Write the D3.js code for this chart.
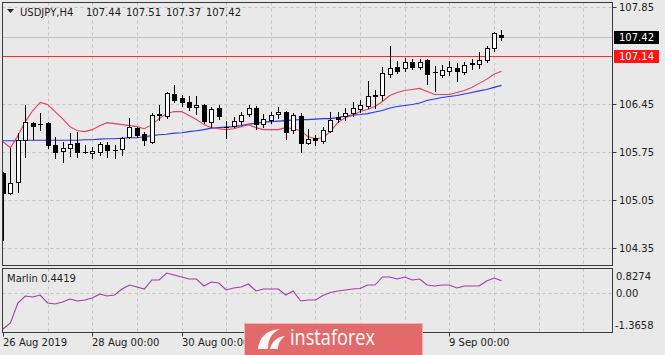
<!DOCTYPE html>
<html><head><meta charset="utf-8">
<script src="https://cdn.jsdelivr.net/npm/d3@7"></script>
<style>
html,body{margin:0;padding:0;background:#e9e9e9;}
svg{display:block;font-family:"DejaVu Sans",sans-serif;}
</style></head>
<body><div id="chart"></div>
<script>
// ---- data (USDJPY H4, 26 Aug 2019 00:00 onwards, one entry per bar) ----
const openP  = [105.444,105.152,105.312,105.925,106.173,106.158,106.173,105.852,105.764,105.808,105.881,105.750,105.735,105.750,105.852,105.779,105.794,105.969,106.100,106.012,105.896,106.290,106.275,106.581,106.523,106.465,106.406,106.435,106.187,106.392,106.115,106.129,106.202,106.304,106.392,106.158,106.217,106.304,106.333,106.071,106.275,105.881,105.954,105.910,106.056,106.260,106.275,106.319,106.377,106.421,106.552,106.567,106.873,106.975,106.960,107.048,106.975,107.077,106.902,106.858,106.917,106.960,106.902,107.033,107.019,107.077,107.252,107.44];
const highP  = [105.458,105.808,106.027,106.435,106.187,106.319,106.187,105.969,105.896,106.027,106.042,105.852,105.823,105.896,105.896,105.852,105.969,106.246,106.115,106.042,106.319,106.435,106.610,106.713,106.567,106.552,106.552,106.450,106.406,106.435,106.202,106.260,106.333,106.435,106.421,106.304,106.333,106.406,106.348,106.319,106.319,106.085,105.998,106.115,106.333,106.333,106.392,106.479,106.494,106.771,106.640,106.975,107.281,107.063,107.106,107.092,107.092,107.092,106.990,107.004,107.063,107.033,107.048,107.092,107.194,107.281,107.486,107.51];
const lowP   = [104.467,105.140,105.167,105.677,105.940,106.071,105.808,105.663,105.604,105.692,105.677,105.735,105.663,105.706,105.677,105.663,105.706,105.954,105.969,105.852,105.881,106.217,106.246,106.479,106.421,106.362,106.304,106.173,106.115,106.231,105.954,106.115,106.158,106.275,106.085,106.115,106.173,106.246,105.940,106.027,105.750,105.867,105.852,105.881,106.042,106.187,106.217,106.275,106.333,106.392,106.392,106.508,106.829,106.888,106.917,106.946,106.946,106.727,106.625,106.829,106.858,106.771,106.873,106.946,106.960,107.048,107.208,107.37];
const closeP = [105.152,105.298,105.925,106.187,106.129,106.151,105.852,105.750,105.808,105.867,105.750,105.743,105.764,105.867,105.779,105.772,105.954,106.115,105.998,105.925,106.290,106.295,106.596,106.508,106.465,106.406,106.435,106.202,106.377,106.275,106.110,106.202,106.290,106.392,106.158,106.231,106.290,106.333,106.042,106.290,105.881,105.940,105.925,106.071,106.217,106.231,106.319,106.392,106.435,106.552,106.567,106.888,106.960,106.917,107.048,106.975,107.048,106.873,106.900,106.931,106.975,106.917,107.004,107.030,107.077,107.252,107.471,107.42];
const maRed  = [105.896,105.808,105.984,106.187,106.348,106.465,106.435,106.333,106.231,106.115,106.056,106.042,106.071,106.129,106.173,106.158,106.144,106.129,106.115,106.085,106.144,106.231,106.304,106.333,106.333,106.275,106.217,106.144,106.100,106.085,106.071,106.085,106.115,106.144,106.100,106.071,106.071,106.071,106.100,106.085,106.056,105.969,105.940,105.954,106.042,106.173,106.246,106.275,106.333,106.362,106.406,106.479,106.567,106.610,106.640,106.654,106.669,106.625,106.581,106.581,106.581,106.610,106.640,106.684,106.742,106.800,106.873,106.917];
const maBlue = [105.910,105.910,105.910,105.918,105.918,105.918,105.918,105.918,105.918,105.918,105.918,105.925,105.925,105.933,105.940,105.940,105.947,105.954,105.954,105.969,105.984,105.998,106.005,106.020,106.027,106.042,106.056,106.071,106.093,106.100,106.107,106.115,106.129,106.151,106.166,106.180,106.187,106.195,106.202,106.210,106.217,106.217,106.224,106.231,106.231,106.246,106.268,106.282,106.290,106.304,106.326,106.348,106.385,106.406,106.421,106.435,106.457,106.494,106.516,106.538,106.552,106.567,106.589,106.610,106.633,106.654,106.684,106.713];
const marlin = [-1.294,-1.078,-0.359,-0.108,-0.144,-0.072,-0.359,-0.395,-0.323,-0.215,-0.287,-0.251,-0.179,-0.036,-0.108,-0.072,0.144,0.288,0.216,0.144,0.468,0.468,0.720,0.648,0.576,0.504,0.504,0.252,0.396,0.360,0.108,0.180,0.216,0.324,0.072,0.144,0.144,0.144,-0.072,0.072,-0.287,-0.251,-0.251,-0.090,0.018,0.072,0.108,0.144,0.162,0.288,0.288,0.576,0.576,0.504,0.576,0.468,0.504,0.288,0.252,0.288,0.288,0.180,0.252,0.252,0.252,0.432,0.540,0.4419];
const priceTicks = [104.35,105.05,105.75,106.45,107.85];
const marlinTicks = [0.8274,0.00,-1.3658];
const timeTickBars = [0,12,24,60];
const timeTickLabels = ["26 Aug 2019","28 Aug 00:00","30 Aug 00:00","9 Sep 00:00"];
const dayGridBars = [6,12,18,24,30,36,42,48,54,60,66,72,78];
const levelLine = 107.14;
const header = ["USDJPY,H4","107.44","107.51","107.37","107.42"];
const marlinName = "Marlin";

// ---- layout ----
const W = 665, H = 355;
const L = 2.5, R = 612.5, T = 2.5, B1 = 265.5, T2 = 268.5, B2 = 332.5;
const svg = d3.select("#chart").append("svg").attr("width", W).attr("height", H);
svg.append("rect").attr("width", W).attr("height", H).attr("fill", "#e9e9e9");

const x = d3.scaleLinear().domain([0, 82]).range([3, 3 + 82 * 7.44]);
const y = d3.scaleLinear().domain([104.35, 107.85]).range([248.3, 7]);
const ym = d3.scaleLinear().domain([-1.3658, 0.8274]).range([331, 270]);

const defs = svg.append("defs");
defs.append("clipPath").attr("id", "c1").append("rect").attr("x", L).attr("y", T).attr("width", R - L).attr("height", B1 - T);
defs.append("clipPath").attr("id", "c2").append("rect").attr("x", L).attr("y", T2).attr("width", R - L).attr("height", B2 - T2);

const gridCol = "#c4c4c4";
const g1 = svg.append("g").attr("clip-path", "url(#c1)");
const g2 = svg.append("g").attr("clip-path", "url(#c2)");

// grids
dayGridBars.forEach(b => {
  const gx = Math.round(x(b)) + 0.5;
  [[g1, T, B1], [g2, T2, B2]].forEach(([g, a, c]) =>
    g.append("line").attr("x1", gx).attr("x2", gx).attr("y1", a).attr("y2", c)
      .attr("stroke", gridCol).attr("stroke-dasharray", "3,3"));
});
priceTicks.forEach(p => {
  const gy = Math.round(y(p)) + 0.5;
  g1.append("line").attr("x1", L).attr("x2", R).attr("y1", gy).attr("y2", gy)
    .attr("stroke", gridCol).attr("stroke-dasharray", "3,3");
});
g2.append("line").attr("x1", L).attr("x2", R).attr("y1", Math.round(ym(0)) + 0.5).attr("y2", Math.round(ym(0)) + 0.5)
  .attr("stroke", gridCol).attr("stroke-dasharray", "3,3");

// bid line
const lastClose = closeP[closeP.length - 1];
g1.append("line").attr("x1", L).attr("x2", R).attr("y1", Math.round(y(lastClose)) + 0.5).attr("y2", Math.round(y(lastClose)) + 0.5)
  .attr("stroke", "#c2c2c2");
// level line
g1.append("line").attr("x1", L).attr("x2", R).attr("y1", Math.round(y(levelLine)) + 0.5).attr("y2", Math.round(y(levelLine)) + 0.5)
  .attr("stroke", "#ff2a2a").attr("stroke-width", 1);

// moving averages
const idx = d3.range(openP.length);
const lineRed = d3.line().x(i => x(i)).y(i => y(maRed[i]));
const lineBlue = d3.line().x(i => x(i)).y(i => y(maBlue[i]));
g1.append("path").attr("d", lineBlue(idx)).attr("fill", "none").attr("stroke", "#2a35f0").attr("stroke-width", 1.1);
g1.append("path").attr("d", lineRed(idx)).attr("fill", "none").attr("stroke", "#e4405c").attr("stroke-width", 1.1);

// candles
idx.forEach(i => {
  const cx = Math.round(x(i));
  const o = openP[i], c = closeP[i];
  g1.append("line").attr("x1", cx + 0.5).attr("x2", cx + 0.5)
    .attr("y1", Math.round(y(highP[i]))).attr("y2", Math.round(y(lowP[i])) + 1)
    .attr("stroke", "#000");
  const yt = Math.round(y(Math.max(o, c))), yb = Math.round(y(Math.min(o, c)));
  if (yb - yt < 1) {
    g1.append("line").attr("x1", cx - 2).attr("x2", cx + 3).attr("y1", yt + 0.5).attr("y2", yt + 0.5).attr("stroke", "#000");
  } else {
    g1.append("rect").attr("x", cx - 1.5).attr("y", yt + 0.5).attr("width", 4).attr("height", yb - yt)
      .attr("fill", c >= o ? "#fff" : "#000").attr("stroke", "#000");
  }
});

// marlin
const lineM = d3.line().x(i => x(i)).y(i => ym(marlin[i]));
g2.append("path").attr("d", lineM(idx)).attr("fill", "none").attr("stroke", "#a23aa8").attr("stroke-width", 1.1);

// frames
svg.append("rect").attr("x", L).attr("y", T).attr("width", R - L).attr("height", B1 - T).attr("fill", "none").attr("stroke", "#3a3a3a");
svg.append("rect").attr("x", L).attr("y", T2).attr("width", R - L).attr("height", B2 - T2).attr("fill", "none").attr("stroke", "#3a3a3a");

// price axis
const txt = "#1c1c1c";
priceTicks.forEach(p => {
  const ty = Math.round(y(p)) + 0.5;
  svg.append("line").attr("x1", R).attr("x2", R + 4).attr("y1", ty).attr("y2", ty).attr("stroke", "#3a3a3a");
  svg.append("text").attr("x", 619).attr("y", ty).attr("dy", "0.35em").attr("font-size", 10).attr("fill", txt).text(p.toFixed(2));
});
function priceBox(p, bg) {
  const cy = Math.round(y(p));
  svg.append("rect").attr("x", 614).attr("y", cy - 6).attr("width", 45).attr("height", 13).attr("fill", bg);
  svg.append("text").attr("x", 619).attr("y", cy + 0.5).attr("dy", "0.35em").attr("font-size", 10).attr("fill", "#fff").text(p.toFixed(2));
}
priceBox(lastClose, "#000");
priceBox(levelLine, "#ff1414");

// marlin axis
svg.append("text").attr("x", 616).attr("y", 276).attr("dy", "0.35em").attr("font-size", 10).attr("fill", txt).text(marlinTicks[0].toFixed(4));
svg.append("text").attr("x", 616).attr("y", ym(marlinTicks[1])).attr("dy", "0.35em").attr("font-size", 10).attr("fill", txt).text(marlinTicks[1].toFixed(2));
svg.append("text").attr("x", 615).attr("y", 325).attr("dy", "0.35em").attr("font-size", 10).attr("fill", txt).text(marlinTicks[2].toFixed(4));

// time axis
timeTickBars.forEach((b, k) => {
  const tx = Math.round(x(b)) + 0.5;
  svg.append("line").attr("x1", tx).attr("x2", tx).attr("y1", B2).attr("y2", B2 + 4).attr("stroke", "#3a3a3a");
  svg.append("text").attr("x", Math.round(x(b))).attr("y", 346).attr("font-size", 10).attr("fill", txt).text(timeTickLabels[k]);
});

// header
svg.append("path").attr("d", "M7,9 L14,9 L10.5,13 Z").attr("fill", "#222");
const hx = [20, 86, 126, 166, 206];
header.forEach((t, k) => svg.append("text").attr("x", hx[k]).attr("y", 16).attr("font-size", 10).attr("fill", txt).text(t));
svg.append("text").attr("x", 7).attr("y", 282).attr("font-size", 10).attr("fill", txt)
  .text(marlinName + " " + marlin[marlin.length - 1].toFixed(4));

// watermark banner
const wb = svg.append("g");
wb.append("rect").attr("x", 244.5).attr("y", 323.5).attr("width", 178).attr("height", 40).attr("fill", "#e36a6a").attr("stroke", "#f1b3b3");
wb.append("path").attr("d", "M258,349 C259,338 266,330 280,329 C272,333 268,338 268,349 Z").attr("fill", "#fff").attr("opacity", 0.95);
wb.append("path").attr("d", "M270,349 C272,341 277,337 285,336 C280,340 278,344 278,349 Z").attr("fill", "#fff").attr("opacity", 0.95);
wb.append("text").attr("x", 290).attr("y", 345).attr("font-family", "'Open Sans',sans-serif").attr("font-size", 21)
  .attr("textLength", 85).attr("lengthAdjust", "spacingAndGlyphs").attr("fill", "#fff").text("instaforex");
</script></body></html>
